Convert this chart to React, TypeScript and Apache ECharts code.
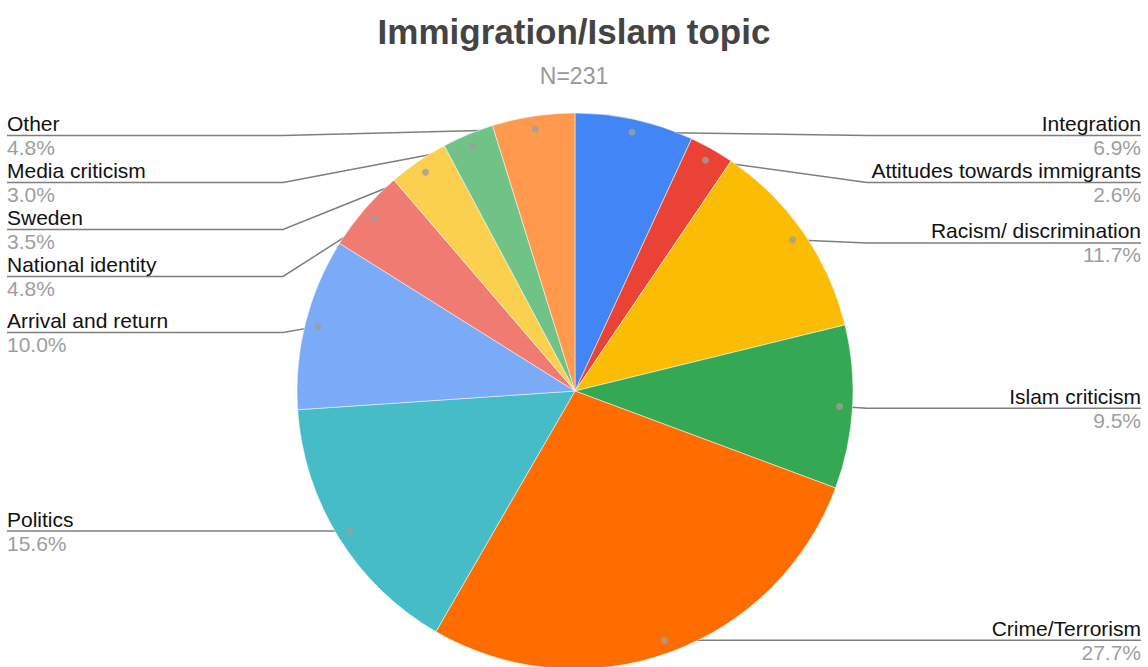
import React, { useEffect, useRef } from "react";
import * as echarts from "echarts";

const TITLE = "Immigration/Islam topic";
const SUBTITLE = "N=231";

const categories = [
  "Integration",
  "Attitudes towards immigrants",
  "Racism/ discrimination",
  "Islam criticism",
  "Crime/Terrorism",
  "Politics",
  "Arrival and return",
  "National identity",
  "Sweden",
  "Media criticism",
  "Other",
];

const percents = [6.9, 2.6, 11.7, 9.5, 27.7, 15.6, 10.0, 4.8, 3.5, 3.0, 4.8];

const colors = [
  "#4285f4",
  "#ea4335",
  "#fbbc04",
  "#34a853",
  "#ff6d01",
  "#46bdc6",
  "#7baaf7",
  "#f07b72",
  "#fcd04f",
  "#71c287",
  "#ff994d",
];

// layout constants
const W = 1148;
const H = 667;
const CX = 575;
const CY = 391;
const R = 278;
const DOT_R = 265;
const TURN_GAP = 14;
const LABEL_TOP = 112;
const FONT = "'Liberation Sans', Arial, Helvetica, sans-serif";

export default function App() {
  const ref = useRef<HTMLDivElement>(null);

  useEffect(() => {
    if (!ref.current) return;
    const chart = echarts.init(ref.current, undefined, { renderer: "svg" });

    const total = percents.reduce((a, b) => a + b, 0);
    const mids: number[] = [];
    let acc = 0;
    percents.forEach((v) => {
      mids.push(acc + v / 2);
      acc += v;
    });

    const option: any = {
      animation: false,
      backgroundColor: "#ffffff",
      title: {
        text: TITLE,
        subtext: SUBTITLE,
        left: "center",
        top: 9,
        itemGap: 15,
        textStyle: {
          fontFamily: FONT,
          fontSize: 35,
          fontWeight: "bold",
          color: "#444444",
        },
        subtextStyle: {
          fontFamily: FONT,
          fontSize: 23,
          color: "#999999",
        },
      },
      polar: { center: [CX, CY], radius: R },
      angleAxis: {
        type: "value",
        min: 0,
        max: total,
        startAngle: 90,
        clockwise: true,
        show: false,
        axisLine: { show: false },
        splitLine: { show: false },
        axisTick: { show: false },
        axisLabel: { show: false },
      },
      radiusAxis: {
        type: "value",
        min: 0,
        max: R,
        show: false,
        axisLine: { show: false },
        splitLine: { show: false },
        axisTick: { show: false },
        axisLabel: { show: false },
      },
      series: [
        {
          type: "pie",
          left: 0,
          right: 0,
          top: LABEL_TOP,
          bottom: 0,
          center: [CX, CY - LABEL_TOP],
          radius: R,
          startAngle: 90,
          clockwise: true,
          avoidLabelOverlap: true,
          itemStyle: { borderColor: "#ffffff", borderWidth: 0.5 },
          emphasis: { disabled: true },
          data: categories.map((name, i) => ({
            name,
            value: percents[i],
            itemStyle: { color: colors[i] },
          })),
          label: {
            show: true,
            position: "outer",
            alignTo: "edge",
            edgeDistance: 7,
            distanceToLabelLine: 0,
            formatter: (p: any) =>
              `{n|${p.name}}\n{p|${percents[p.dataIndex].toFixed(1)}%}`,
            rich: {
              n: {
                fontFamily: FONT,
                fontSize: 21,
                color: "#111111",
                lineHeight: 24,
              },
              p: {
                fontFamily: FONT,
                fontSize: 21,
                color: "#9e9e9e",
                lineHeight: 24,
              },
            },
          },
          labelLine: {
            show: true,
            length: DOT_R - R,
            length2: 10,
            lineStyle: { color: "#7e7e7e", width: 1.5 },
          },
          labelLayout: (params: any) => {
            const pts = params.labelLinePoints;
            if (!pts) return {};
            const rect = params.labelRect;
            const isLeft = rect.x + rect.width / 2 < CX;
            const p0 = pts[0];
            const k = DOT_R / R;
            const dot = [CX + (p0[0] - CX) * k, CY + (p0[1] - CY) * k];
            const y = rect.y + rect.height / 2;
            const turnX = isLeft ? CX - R - TURN_GAP : CX + R + TURN_GAP;
            const endX = isLeft ? rect.x : rect.x + rect.width;
            return { labelLinePoints: [dot, [turnX, y], [endX, y]] };
          },
        },
        {
          type: "scatter",
          coordinateSystem: "polar",
          z: 5,
          silent: true,
          symbol: "circle",
          symbolSize: 7,
          itemStyle: { color: "#9e9e9e" },
          data: mids.map((m) => [DOT_R, m]),
        },
      ],
    };

    chart.setOption(option);
    return () => chart.dispose();
  }, []);

  return (
    <div
      ref={ref}
      style={{ position: "absolute", left: 0, top: 0, width: W, height: H }}
    />
  );
}
